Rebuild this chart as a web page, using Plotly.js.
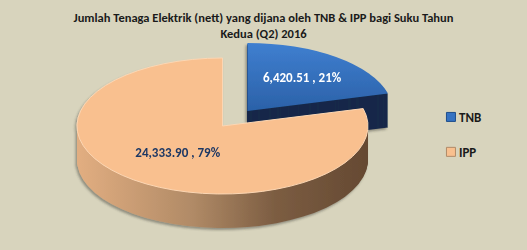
<!DOCTYPE html>
<html>
<head>
<meta charset="utf-8">
<script src="https://cdn.plot.ly/plotly-3.0.1.min.js"></script>
<style>
  html, body { margin: 0; padding: 0; background: #D8D4BD; }
  #chart { width: 527px; height: 250px; }
</style>
</head>
<body>
<div id="chart"></div>
<script>
// Net electricity generated in Q2 2016 (GWh), by producer
const producers = ['TNB', 'IPP'];
const energy = [6420.51, 24333.90];
const chartTitle = 'Jumlah Tenaga Elektrik (nett) yang dijana oleh TNB &amp; IPP bagi Suku Tahun<br>Kedua (Q2) 2016';

const BG = '#D8D4BD';
const FONT = 'Carlito, Lato, sans-serif';
const faceColors = ['#3572C2', '#F9C08F'];
const wallColors = ['#14294A', '#9C7656'];
const labelColors = ['#FFFFFF', '#1F3864'];
const swatchLines = ['#1F4E8C', '#B08A68'];
const PULL = [0.28, 0];
const DEPTH = 34;                       // wall height in px
const disc = { cx: 222.5, cy: 126, rx: 145.5, ry: 68 };   // flattened disc on the page
const SWATCH_SHIFT = 12;                // legend swatches sit close to their text

const gd = document.getElementById('chart');
const traces = [];

// the wall: the same pie stacked downwards one pixel at a time
for (let k = DEPTH; k >= 1; k--) {
  traces.push({
    type: 'pie', labels: producers, values: energy,
    sort: false, direction: 'clockwise', rotation: 0, pull: PULL,
    marker: { colors: wallColors, line: { width: 0 } },
    textinfo: 'none', hoverinfo: 'skip', showlegend: false
  });
}
// the top face, carrying the value labels
traces.push({
  type: 'pie', labels: producers, values: energy,
  sort: false, direction: 'clockwise', rotation: 0, pull: PULL,
  marker: { colors: faceColors, line: { width: 0 } },
  texttemplate: '%{value:,.2f} , %{percent:.0%}',
  textposition: 'inside', insidetextorientation: 'horizontal',
  insidetextfont: { family: FONT, size: 13, weight: 'bold', color: labelColors },
  hoverinfo: 'skip', showlegend: false
});
// legend entries
producers.forEach((p, i) => {
  traces.push({
    type: 'scatter', x: [null], y: [null], mode: 'markers', name: p, legendgroup: p,
    marker: { symbol: 'square', size: 9, color: faceColors[i], line: { width: 1, color: swatchLines[i] } },
    hoverinfo: 'skip', showlegend: true
  });
});

const layout = {
  width: 527, height: 250,
  margin: { l: 0, r: 0, t: 0, b: 0 },
  paper_bgcolor: BG, plot_bgcolor: BG,
  title: {
    text: chartTitle,
    font: { family: FONT, size: 12.5, weight: 'bold', color: '#1A1A1A' },
    x: 0.5, xanchor: 'center', y: 0.913, yanchor: 'top', yref: 'container'
  },
  xaxis: { visible: false }, yaxis: { visible: false },
  showlegend: true,
  legend: {
    x: 0.795, xanchor: 'left', y: 0.592, yanchor: 'top',
    tracegroupgap: 15, bgcolor: 'rgba(0,0,0,0)',
    font: { family: FONT, size: 13, weight: 'bold', color: '#1A1A1A' }
  },
  uniformtext: { mode: 'show', minsize: 13 },
  hovermode: false
};

const NS = 'http://www.w3.org/2000/svg';

function addGradient(defs, id, stops, vertical) {
  const g = document.createElementNS(NS, 'linearGradient');
  g.setAttribute('id', id);
  g.setAttribute('x1', '0'); g.setAttribute('y1', '0');
  g.setAttribute('x2', vertical ? '0' : '1'); g.setAttribute('y2', vertical ? '1' : '0');
  stops.forEach(([o, c]) => {
    const s = document.createElementNS(NS, 'stop');
    s.setAttribute('offset', o); s.setAttribute('stop-color', c);
    g.appendChild(s);
  });
  defs.appendChild(g);
}

function addShadow(defs, id) {
  const f = document.createElementNS(NS, 'filter');
  f.setAttribute('id', id);
  f.setAttribute('x', '-10%'); f.setAttribute('y', '-10%');
  f.setAttribute('width', '120%'); f.setAttribute('height', '130%');
  const d = document.createElementNS(NS, 'feDropShadow');
  d.setAttribute('dx', '-1.5'); d.setAttribute('dy', '2');
  d.setAttribute('stdDeviation', '1.2');
  d.setAttribute('flood-color', '#3C3A30'); d.setAttribute('flood-opacity', '0.45');
  f.appendChild(d);
  defs.appendChild(f);
}

function shapeDisc() {
  const defs = gd.querySelector('svg.main-svg defs');
  addGradient(defs, 'ippWall', [[0, '#E2AE81'], [0.4, '#B08A66'], [0.68, '#7C5D42'], [1, '#654932']], false);
  addGradient(defs, 'tnbFace', [[0, '#3F7FD0'], [1, '#2B61A8']], true);
  addShadow(defs, 'discShadow');

  const layer = gd.querySelector('.pielayer');
  if (layer) layer.setAttribute('filter', 'url(#discShadow)');

  const groups = gd.querySelectorAll('.pielayer .trace');
  groups.forEach((g, i) => {
    const cd0 = gd.calcdata[i][0];
    const sx = disc.rx / cd0.r, sy = disc.ry / cd0.r;
    const drop = i < DEPTH ? DEPTH - i : 0;
    g.setAttribute('transform',
      `translate(${disc.cx},${disc.cy + drop}) scale(${sx},${sy}) translate(${-cd0.cx},${-cd0.cy})`);

    const paths = g.querySelectorAll('path.surface');
    if (drop > 0) {
      if (paths[1]) paths[1].style.fill = 'url(#ippWall)';
    } else {
      if (paths[0]) paths[0].style.fill = 'url(#tnbFace)';
      if (paths[1]) {
        paths[1].style.stroke = '#FCD6B3';
        paths[1].style.strokeWidth = '1px';
        paths[1].style.vectorEffect = 'non-scaling-stroke';
      }
    }

    // keep label glyphs upright and unstretched
    g.querySelectorAll('text.slicetext').forEach(t => {
      const bb = t.getBBox();
      let px = bb.x + bb.width / 2, py = bb.y + bb.height / 2;
      const c = t.transform.baseVal.consolidate();
      if (c) {
        const m = c.matrix;
        const x = m.a * px + m.c * py + m.e, y = m.b * px + m.d * py + m.f;
        px = x; py = y;
      }
      t.setAttribute('transform',
        `translate(${px},${py}) scale(${1 / sx},${1 / sy}) translate(${-px},${-py}) ` + (t.getAttribute('transform') || ''));
    });
  });

  gd.querySelectorAll('.legend .legendpoints').forEach(p => {
    p.setAttribute('transform', `translate(${SWATCH_SHIFT},0)`);
  });
}

Plotly.newPlot(gd, traces, layout, { staticPlot: true, displayModeBar: false }).then(shapeDisc);
</script>
</body>
</html>
